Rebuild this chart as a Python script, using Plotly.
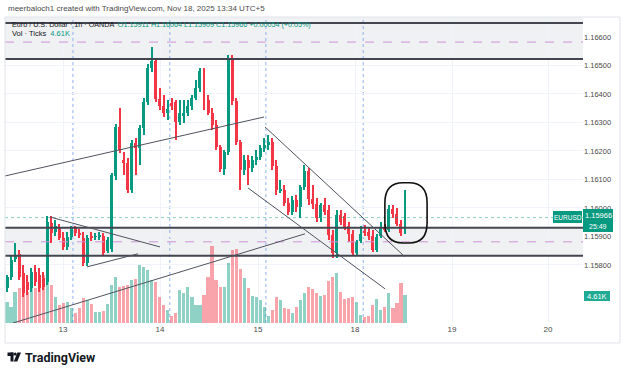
import plotly.graph_objects as go

# ---------------- data ----------------
open_ = [1.15719,1.15758,1.15821,1.15839,1.15772,1.15740,1.15719,1.15775,1.15765,1.15754,
         1.15740,1.15947,1.15916,1.15930,1.15895,1.15863,1.15898,1.15930,1.15912,1.15895,
         1.15807,1.15902,1.15898,1.15898,1.15902,1.15849,1.15856,1.16112,1.16284,1.16168,
         1.16158,1.16063,1.16228,1.16210,1.16281,1.16372,1.16491,1.16516,1.16382,1.16358,
         1.16333,1.16368,1.16372,1.16302,1.16326,1.16333,1.16358,1.16386,1.16421,1.16481,
         1.16379,1.16333,1.16291,1.16214,1.16137,1.16196,1.16526,1.16375,1.16232,1.16133,
         1.16168,1.16140,1.16168,1.16179,1.16210,1.16221,1.16232,1.16147,1.16060,1.16063,
         1.16017,1.15986,1.16028,1.16003,1.16074,1.16130,1.16032,1.16014,1.15965,1.16010,
         1.15993,1.15905,1.15842,1.15975,1.15972,1.15937,1.15909,1.15842,1.15884,1.15919,
         1.15916,1.15902,1.15853,1.15902,1.15930,1.15923,1.15996,1.15979,1.15944,1.15911]
high = [1.15765,1.15835,1.15877,1.15853,1.15800,1.15765,1.15789,1.15800,1.15789,1.15775,
        1.15972,1.15972,1.15958,1.15944,1.15916,1.15916,1.15937,1.15937,1.15926,1.15916,
        1.15905,1.15916,1.15912,1.15916,1.15912,1.15898,1.16123,1.16295,1.16351,1.16196,
        1.16175,1.16239,1.16246,1.16291,1.16386,1.16505,1.16565,1.16526,1.16421,1.16396,
        1.16379,1.16386,1.16379,1.16379,1.16379,1.16379,1.16396,1.16449,1.16491,1.16491,
        1.16396,1.16351,1.16309,1.16221,1.16203,1.16537,1.16537,1.16386,1.16239,1.16186,
        1.16186,1.16182,1.16203,1.16221,1.16246,1.16256,1.16246,1.16168,1.16098,1.16081,
        1.16035,1.16042,1.16046,1.16081,1.16151,1.16140,1.16081,1.16035,1.16017,1.16035,
        1.16010,1.15923,1.15993,1.15993,1.15982,1.15951,1.15923,1.15888,1.15937,1.15940,
        1.15930,1.15923,1.15909,1.15951,1.15944,1.16010,1.16010,1.16000,1.15958,1.16064]
low = [1.15705,1.15747,1.15810,1.15747,1.15688,1.15695,1.15705,1.15726,1.15705,1.15712,
       1.15730,1.15877,1.15902,1.15888,1.15853,1.15853,1.15888,1.15902,1.15895,1.15796,
       1.15796,1.15884,1.15888,1.15888,1.15831,1.15842,1.15846,1.16098,1.16193,1.16116,
       1.16053,1.16053,1.16116,1.16151,1.16256,1.16361,1.16477,1.16372,1.16344,1.16319,
       1.16309,1.16344,1.16239,1.16291,1.16298,1.16323,1.16344,1.16379,1.16407,1.16344,
       1.16326,1.16274,1.16203,1.16126,1.16116,1.16186,1.16361,1.16221,1.16063,1.16116,
       1.16081,1.16126,1.16151,1.16168,1.16196,1.16203,1.16133,1.16046,1.16053,1.16007,
       1.15975,1.15975,1.15986,1.15965,1.16063,1.16010,1.15996,1.15951,1.15951,1.15975,
       1.15888,1.15824,1.15824,1.15940,1.15923,1.15881,1.15831,1.15831,1.15877,1.15902,
       1.15888,1.15846,1.15846,1.15895,1.15916,1.15916,1.15965,1.15937,1.15902,1.15909]
close = [1.15758,1.15817,1.15835,1.15758,1.15702,1.15712,1.15775,1.15740,1.15719,1.15723,
         1.15951,1.15912,1.15937,1.15895,1.15863,1.15898,1.15930,1.15912,1.15905,1.15807,
         1.15895,1.15895,1.15899,1.15905,1.15842,1.15888,1.16116,1.16284,1.16203,1.16158,
         1.16063,1.16228,1.16210,1.16281,1.16372,1.16491,1.16516,1.16382,1.16358,1.16333,
         1.16347,1.16358,1.16302,1.16333,1.16333,1.16358,1.16386,1.16421,1.16481,1.16379,
         1.16333,1.16291,1.16214,1.16137,1.16196,1.16526,1.16375,1.16232,1.16133,1.16168,
         1.16140,1.16168,1.16179,1.16210,1.16221,1.16232,1.16147,1.16063,1.16067,1.16017,
         1.15986,1.16028,1.16003,1.16074,1.16130,1.16032,1.16014,1.15965,1.16010,1.15986,
         1.15905,1.15842,1.15975,1.15951,1.15933,1.15909,1.15842,1.15881,1.15909,1.15912,
         1.15902,1.15853,1.15898,1.15930,1.15923,1.15996,1.15979,1.15944,1.15912,1.15966]
volume = [3470,2640,5100,5800,5900,5100,5800,5800,6300,7900,
          7600,6300,4300,3000,3300,3500,2500,1650,2500,4100,
          3800,3100,1800,1800,2000,3100,6300,7600,5900,6100,
          6300,7100,7300,9600,9200,8700,7100,6800,4300,3000,
          2100,1200,1650,5400,5000,5900,4300,3000,3000,4600,
          7600,12700,7100,5900,5900,9900,12000,12200,8900,7400,
          5800,4500,4300,3800,2600,1200,2100,4300,3800,2500,
          2300,1650,2600,3800,5000,5900,5600,5000,4500,4600,
          6900,7600,8300,5100,4000,4100,4300,3500,1300,1000,
          1200,3000,4000,2100,2600,5000,2500,3300,6600,4610]

price_ticks = [1.158, 1.159, 1.160, 1.161, 1.162, 1.163, 1.164, 1.165, 1.166]
price_tick_labels = ["1.15800", "1.15900", "1.16000", "1.16100", "1.16200",
                     "1.16300", "1.16400", "1.16500", "1.16600"]
day_tick_pos = [13.93, 38.06, 62.44, 86.57, 110.7, 134.58]
day_tick_labels = ["13", "14", "15", "18", "19", "20"]
session_breaks = [16.4, 40.5, 64.4, 88.6]

last_price = 1.15966
zone_top = (1.16523, 1.16649)
zone_top_mid = 1.16582
zone_low = (1.15832, 1.15930)
zone_low_mid = 1.15881

trendlines = [  # (x0, y0, x1, y1)
    (-0.5, 1.16112, 63.93, 1.16319),
    (64.18, 1.16284, 99.0, 1.15828),
    (59.95, 1.16070, 94.03, 1.15716),
    (1.49, 1.15596, 74.13, 1.15909),
    (10.7, 1.15968, 38.06, 1.15863),
    (19.9, 1.15793, 32.6, 1.15839),
]
circle_box = (94.0, 1.15877, 104.5, 1.16088)

# ---------------- figure ----------------
GREEN = "#089981"
RED = "#f23645"
x = list(range(len(close)))
up = [c >= o for o, c in zip(open_, close)]
candle_colors = [GREEN if u else RED for u in up]
vol_colors = ["rgba(8,153,129,0.45)" if u else "rgba(242,54,69,0.45)" for u in up]
body_base = [min(o, c) for o, c in zip(open_, close)]
body_len = [max(abs(c - o), 0.00003) for o, c in zip(open_, close)]
wick_len = [h - l for h, l in zip(high, low)]

fig = go.Figure()
fig.add_trace(go.Bar(x=x, y=volume, marker_color=vol_colors, marker_line_width=0,
                     width=0.78, yaxis="y2", showlegend=False, hoverinfo="skip"))
fig.add_trace(go.Bar(x=x, y=wick_len, base=low, marker_color=candle_colors,
                     marker_line_width=0, width=0.25, showlegend=False, hoverinfo="skip"))
fig.add_trace(go.Bar(x=x, y=body_len, base=body_base, marker_color=candle_colors,
                     marker_line_width=0, width=0.74, showlegend=False, hoverinfo="skip"))

W, H = 625, 374
L, R, T, B = 5, 42, 17, 51
pw, ph = W - L - R, H - T - B


def px(xp):
    return (xp - L) / pw


def py(yp):
    return (H - B - yp) / ph


shapes = []
# zones
for lo_, hi_ in (zone_top, zone_low):
    shapes.append(dict(type="rect", xref="paper", yref="y", x0=0, x1=1, y0=lo_, y1=hi_,
                       fillcolor="rgba(120,123,134,0.11)", line_width=0, layer="below"))
shapes.append(dict(type="rect", xref="paper", yref="paper", x0=0, x1=1, y0=py(23), y1=1,
                   fillcolor="rgba(120,123,134,0.11)", line_width=0, layer="below"))
for v in (*zone_top, *zone_low):
    shapes.append(dict(type="line", xref="paper", yref="y", x0=0, x1=1, y0=v, y1=v,
                       line=dict(color="#434651", width=2)))
for v in (zone_top_mid, zone_low_mid):
    shapes.append(dict(type="line", xref="paper", yref="y", x0=0, x1=1, y0=v, y1=v,
                       line=dict(color="#ce93d8", width=1, dash="dash")))
# session breaks
for s in session_breaks:
    shapes.append(dict(type="line", xref="x", yref="paper", x0=s, x1=s, y0=0, y1=1,
                       line=dict(color="#8fb0ee", width=1, dash="dot"), layer="below"))
# last price line
shapes.append(dict(type="line", xref="paper", yref="y", x0=0, x1=1, y0=last_price, y1=last_price,
                   line=dict(color="rgba(8,153,129,0.45)", width=1, dash="dot")))
# trendlines
for x0, y0, x1, y1 in trendlines:
    shapes.append(dict(type="line", xref="x", yref="y", x0=x0, y0=y0, x1=x1, y1=y1,
                       line=dict(color="#50535e", width=1)))
# hand drawn rounded box
cx0, cy0, cx1, cy1 = circle_box
rx, ry = 4.5, 0.0007
path = (f"M {cx0+rx},{cy1} L {cx1-rx},{cy1} Q {cx1},{cy1} {cx1},{cy1-ry} "
        f"L {cx1},{cy0+ry} Q {cx1},{cy0} {cx1-rx},{cy0} L {cx0+rx},{cy0} "
        f"Q {cx0},{cy0} {cx0},{cy0+ry} L {cx0},{cy1-ry} Q {cx0},{cy1} {cx0+rx},{cy1} Z")
shapes.append(dict(type="path", xref="x", yref="y", path=path,
                   line=dict(color="#111111", width=1.6)))
# price tags
shapes.append(dict(type="rect", xref="paper", yref="paper", x0=px(583), x1=px(613),
                   y0=py(232), y1=py(209), fillcolor=GREEN, line_width=0))
shapes.append(dict(type="rect", xref="paper", yref="paper", x0=px(553), x1=px(582),
                   y0=py(223), y1=py(211), fillcolor=GREEN, line_width=0))
shapes.append(dict(type="rect", xref="paper", yref="paper", x0=px(584), x1=px(610),
                   y0=py(301), y1=py(291), fillcolor="#22ab94", line_width=0))
# chart frame
shapes.append(dict(type="rect", xref="paper", yref="paper", x0=px(5), x1=px(620),
                   y0=py(343), y1=py(17), line=dict(color="#e0e3eb", width=1)))
# TradingView logo
shapes.append(dict(type="rect", xref="paper", yref="paper", x0=px(7.5), x1=px(13.5),
                   y0=py(356), y1=py(352.5), fillcolor="#131722", line_width=0))
shapes.append(dict(type="rect", xref="paper", yref="paper", x0=px(10.5), x1=px(13.5),
                   y0=py(361.5), y1=py(352.5), fillcolor="#131722", line_width=0))
shapes.append(dict(type="circle", xref="paper", yref="paper", x0=px(13.8), x1=px(16.6),
                   y0=py(355.6), y1=py(352.6), fillcolor="#131722", line_width=0))
shapes.append(dict(type="path", xref="paper", yref="paper",
                   path=(f"M {px(17.3)},{py(352.5)} L {px(21)},{py(352.5)} "
                         f"L {px(17.3)},{py(361.5)} L {px(13.8)},{py(361.5)} Z"),
                   fillcolor="#131722", line_width=0))

font = "Liberation Sans"
ann = []
ann.append(dict(xref="paper", yref="paper", x=px(6), y=py(8), xanchor="left", yanchor="middle",
                text="meerbaloch1 created with TradingView.com, Nov 18, 2025 13:34 UTC+5",
                font=dict(size=8, color="#4a4a4a", family=font), showarrow=False))
ann.append(dict(xref="paper", yref="paper", x=px(10), y=py(24), xanchor="left", yanchor="middle",
                text=("Euro / U.S. Dollar · 1h · OANDA  <span style='color:#089981'>O1.15911 "
                      "H1.16064 L1.15909 C1.15966 +0.00054 (+0.05%)</span>"),
                font=dict(size=7.2, color="#131722", family=font), showarrow=False))
ann.append(dict(xref="paper", yref="paper", x=px(10), y=py(33.5), xanchor="left", yanchor="middle",
                text="Vol · Ticks  <span style='color:#089981'>4.61K</span>",
                font=dict(size=7.5, color="#131722", family=font), showarrow=False))
ann.append(dict(xref="paper", yref="paper", x=px(598), y=py(215.5), xanchor="center", yanchor="middle",
                text="1.15966", font=dict(size=7.5, color="white", family=font), showarrow=False))
ann.append(dict(xref="paper", yref="paper", x=px(598), y=py(226), xanchor="center", yanchor="middle",
                text="25:49", font=dict(size=7, color="white", family=font), showarrow=False))
ann.append(dict(xref="paper", yref="paper", x=px(567.5), y=py(217), xanchor="center", yanchor="middle",
                text="EURUSD", font=dict(size=6.5, color="white", family=font), showarrow=False))
ann.append(dict(xref="paper", yref="paper", x=px(597), y=py(296), xanchor="center", yanchor="middle",
                text="4.61K", font=dict(size=7.5, color="white", family=font), showarrow=False))
ann.append(dict(xref="paper", yref="paper", x=px(23), y=py(357), xanchor="left", yanchor="middle",
                text="<b>TradingView</b>", font=dict(size=12.5, color="#131722", family="Roboto"),
                showarrow=False))

fig.update_layout(
    width=W, height=H, margin=dict(l=L, r=R, t=T, b=B),
    paper_bgcolor="white", plot_bgcolor="white",
    barmode="overlay", bargap=0, showlegend=False, shapes=shapes, annotations=ann,
    xaxis=dict(range=[-0.5, 143.28],
               tickvals=day_tick_pos, ticktext=day_tick_labels,
               showgrid=True, gridcolor="#f0f3fa", gridwidth=1, zeroline=False,
               showline=False, ticks="", tickfont=dict(size=8, color="#4a4a4a", family=font)),
    yaxis=dict(range=[1.15596, 1.16670], side="right", tickvals=price_ticks,
               ticktext=price_tick_labels, showgrid=True, gridcolor="#f0f3fa",
               zeroline=False, showline=False, ticks="",
               tickfont=dict(size=7.5, color="#4a4a4a", family=font)),
    yaxis2=dict(range=[0, 50500], overlaying="y", visible=False, fixedrange=True),
)

fig.write_html("out.html")
